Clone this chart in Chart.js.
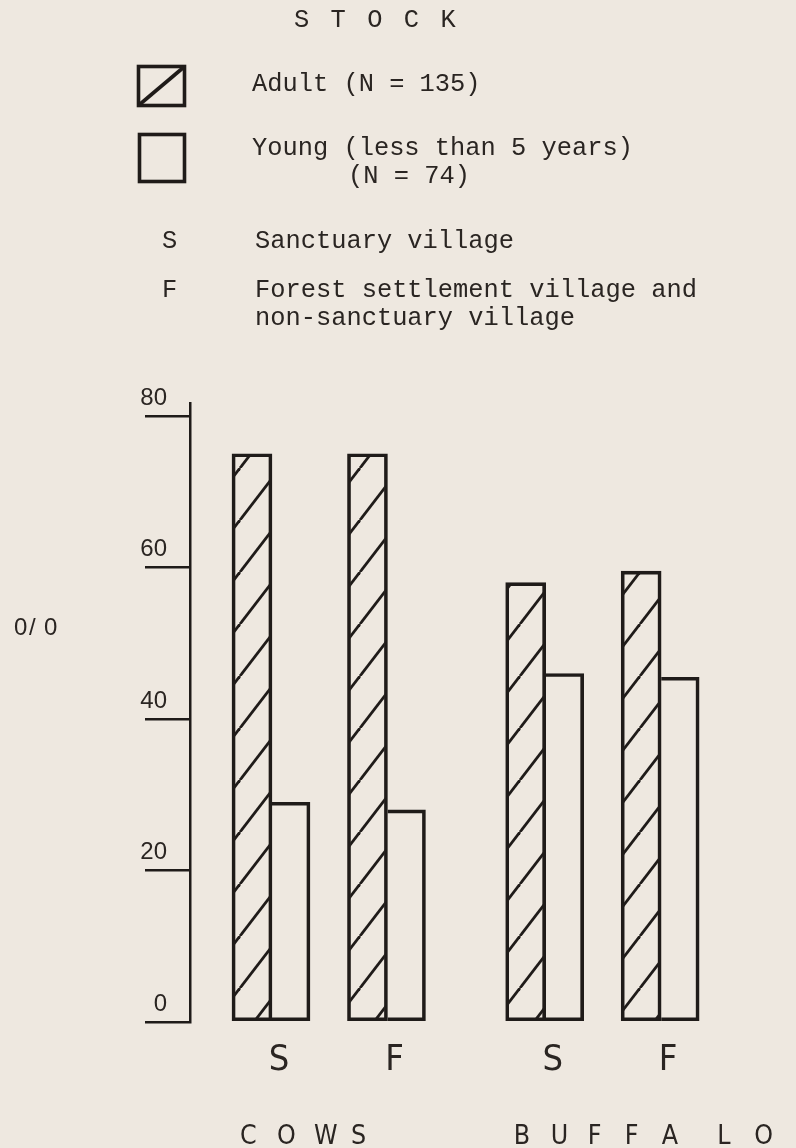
<!DOCTYPE html>
<html>
<head>
<meta charset="utf-8">
<title>Stock: adult and young animals by village type</title>
<script src="https://cdn.jsdelivr.net/npm/chart.js@4.4.1/dist/chart.umd.min.js"></script>
<style>
  html, body { margin: 0; padding: 0; background: #eee8e0; }
  #wrap { width: 796px; height: 1148px; }
  canvas { display: block; }
</style>
</head>
<body>
<div id="wrap"><canvas id="chart" width="796" height="1148"></canvas></div>
<script>
// ---- data -------------------------------------------------------------
const villageTypes = ['S', 'F'];                       // per animal group
const animalGroups = ['C O W S', 'B U F F A  L O'];
// percentage of stock, order: Cows S, Cows F, Buffalo S, Buffalo F
const adultShare = [75, 75, 58, 59.5];
const youngShare = [29, 28, 46, 45.5];
const yTickValues = [0, 20, 40, 60, 80];
const seriesNames = ['Adult (N = 135)', 'Young (less than 5 years)'];

const legendTitle = 'S T O C K';
const legendAdult = ['Adult (N = 135)'];
const legendYoung = ['Young (less than 5 years)', '(N = 74)'];
const keyLetters = ['S', 'F'];
const keyTexts = [['Sanctuary village'], ['Forest settlement village and', 'non-sanctuary village']];
const yAxisTitle = '0/0';

// ---- look -------------------------------------------------------------
const INK = '#1f1b19';
const TEXT = '#2a2522';
const GROUP_STEP = 2.37;   // distance between the first bars of the two animal groups
const MONO = "'Liberation Mono', 'Courier New', monospace";
const SANS = "'Liberation Sans', Arial, sans-serif";
const NARROW = "'Liberation Sans Narrow', 'Arial Narrow', 'DejaVu Sans Condensed', 'Liberation Sans', sans-serif";

// x position of every village bar pair
const positions = [];
const tickLabels = [];
animalGroups.forEach((g, gi) => {
  villageTypes.forEach((v, vi) => {
    positions.push(gi * GROUP_STEP + vi);
    tickLabels.push(v);
  });
});

// diagonal hatching for the adult bars
function makeHatch() {
  const w = 40, h = 52;
  const t = document.createElement('canvas');
  t.width = w; t.height = h;
  const g = t.getContext('2d');
  g.strokeStyle = INK;
  g.lineWidth = 2.8;
  for (const dx of [-w, 0, w]) {
    g.beginPath();
    g.moveTo(dx, h);
    g.lineTo(dx + w, 0);
    g.stroke();
  }
  return g.createPattern(t, 'repeat');
}

// draw characters on a fixed cell grid (typewriter-style spaced lettering)
function drawCells(ctx, text, x, y, cell) {
  for (let i = 0; i < text.length; i++) {
    if (text[i] !== ' ') ctx.fillText(text[i], x + i * cell, y);
  }
}

const annotations = {
  id: 'annotations',
  afterDraw(chart) {
    const ctx = chart.ctx;
    const xs = chart.scales.x;
    ctx.save();
    ctx.fillStyle = TEXT;
    ctx.textAlign = 'left';
    ctx.textBaseline = 'alphabetic';

    // key block
    ctx.font = '25.4px ' + MONO;
    drawCells(ctx, legendTitle, 294, 27, 18.3);
    ctx.fillText(legendAdult[0], 252, 91);
    ctx.fillText(legendYoung[0], 252, 155);
    ctx.fillText(legendYoung[1], 348, 183);
    ctx.fillText(keyLetters[0], 162, 248);
    ctx.fillText(keyTexts[0][0], 255, 248);
    ctx.fillText(keyLetters[1], 162, 297);
    ctx.fillText(keyTexts[1][0], 255, 297);
    ctx.fillText(keyTexts[1][1], 255, 325);

    // key swatches
    ctx.strokeStyle = INK;
    ctx.lineWidth = 3.6;
    ctx.strokeRect(138.5, 66.5, 46, 39);
    ctx.beginPath();
    ctx.moveTo(139, 105);
    ctx.lineTo(184, 67);
    ctx.stroke();
    ctx.strokeRect(139.5, 134.5, 45, 47);

    // y axis caption
    ctx.font = '24px ' + SANS;
    drawCells(ctx, yAxisTitle, 14, 635, 15);

    // animal group captions under each pair of villages
    ctx.font = '26.5px ' + NARROW;
    animalGroups.forEach((g, gi) => {
      const x0 = xs.getPixelForValue(positions[gi * villageTypes.length]) - 32;
      drawCells(ctx, g, x0, 1144, 18.5);
    });
    ctx.restore();
  }
};

const hatch = makeHatch();
const toPoints = arr => arr.map((v, i) => ({ x: positions[i], y: v }));

new Chart(document.getElementById('chart'), {
  type: 'bar',
  data: {
    datasets: [
      {
        label: seriesNames[0],
        data: toPoints(adultShare),
        backgroundColor: hatch,
        borderColor: INK,
        borderWidth: 3,
        borderSkipped: false,
        barThickness: 40
      },
      {
        label: seriesNames[1],
        data: toPoints(youngShare),
        backgroundColor: 'rgba(0,0,0,0)',
        borderColor: INK,
        borderWidth: 3,
        borderSkipped: 'left',
        barThickness: 38
      }
    ]
  },
  options: {
    responsive: false,
    animation: false,
    layout: { padding: { top: 403, right: 39, left: 0, bottom: 0 } },
    plugins: { legend: { display: false }, tooltip: { enabled: false } },
    scales: {
      x: {
        type: 'linear',
        offset: false,
        min: -0.71,
        max: 4.2,
        grid: { display: false, drawTicks: false },
        border: { display: false },
        afterFit: s => { s.height = 126; },
        afterBuildTicks: s => { s.ticks = positions.map(v => ({ value: v })); },
        ticks: {
          autoSkip: false,
          maxRotation: 0,
          padding: 17,
          labelOffset: 7,
          color: TEXT,
          font: { family: NARROW, size: 36 },
          callback: (v, i) => tickLabels[i]
        }
      },
      y: {
        min: 0,
        max: 81.7,
        afterFit: s => { s.width = 190; },
        afterBuildTicks: s => { s.ticks = yTickValues.map(v => ({ value: v })); },
        grid: { drawOnChartArea: false, tickLength: 45, color: INK, lineWidth: 2.5 },
        border: { display: true, color: INK, width: 2.5 },
        ticks: {
          padding: -22,
          labelOffset: -18,
          color: TEXT,
          font: { family: SANS, size: 24 }
        }
      }
    }
  },
  plugins: [annotations]
});
</script>
</body>
</html>
